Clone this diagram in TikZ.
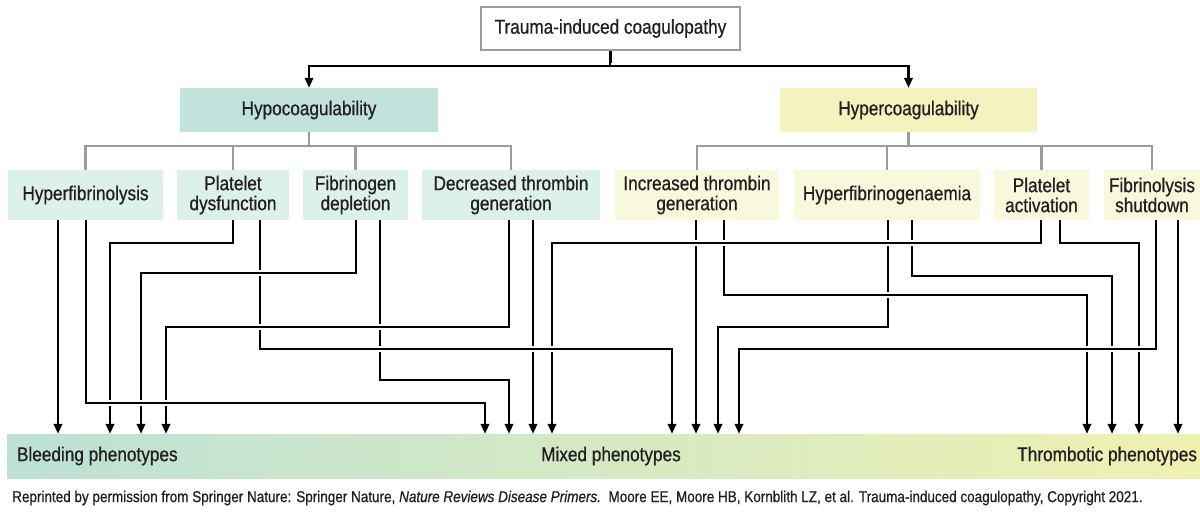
\documentclass[tikz,border=0pt]{standalone}
\usepackage{fontspec}
\setmainfont{Liberation Sans}
\newfontfamily\narrowfont[FakeStretch=0.86, FakeBold=0.7]{Liberation Sans}
\usetikzlibrary{positioning, arrows.meta}
\definecolor{inkgray}{HTML}{231F20}
\definecolor{treegray}{HTML}{9C9C9C}
\definecolor{hypofill}{HTML}{C2E3DC}
\definecolor{hypolight}{HTML}{DCF0EC}
\definecolor{hyperfill}{HTML}{F2F3BD}
\definecolor{hyperlight}{HTML}{F8F9DC}
\definecolor{barteal}{HTML}{BDE1D6}
\definecolor{barmid}{HTML}{DFECCA}
\definecolor{baryellow}{HTML}{EFF1B1}
\tikzset{
x=1pt, y=-1pt, % one unit is one pixel of the figure, y runs downward
every node/.style={font=\narrowfont\fontsize{20}{20}\selectfont, text=inkgray, inner sep=0pt, align=center}, % text of every label
topbox/.style={draw=treegray, line width=2pt, fill=white, minimum height=43pt}, % the root box
hypobox/.style={fill=hypofill, minimum height=44pt}, % first level, bleeding side
hyperbox/.style={fill=hyperfill, minimum height=44pt}, % first level, thrombotic side
hypoitem/.style={fill=hypolight, minimum height=50pt}, % second level, bleeding side
hyperitem/.style={fill=hyperlight, minimum height=50pt}, % second level, thrombotic side
tree/.style={draw=treegray, line width=2.4pt}, % grey branches
link/.style={draw=black, line width=2.2pt, -{Triangle[length=10pt, width=8.5pt]}, preaction={draw=white, line width=6.5pt, -}}, % black arrows, gap where they cross
}

\begin{document}
\begin{tikzpicture}
        \useasboundingbox (0,0) rectangle (1200,513);
        \fill[white] (0,0) rectangle (1200,513);

        \node[topbox, minimum width=259pt] (tic) at (610.5,28.5) {Trauma-induced coagulopathy};
        \node[hypobox, minimum width=258pt] (hypo) at (309,110) {Hypocoagulability};
        \node[hyperbox, minimum width=257pt] (hyper) at (908.5,110) {Hypercoagulability};

        \node[hypoitem, minimum width=155pt] (hfl) at (85.5,195) {Hyperfibrinolysis};
        \node[hypoitem, minimum width=112pt] (pdy) at (233,195) {Platelet\\dysfunction};
        \node[hypoitem, minimum width=105pt] (fde) at (355.5,195) {Fibrinogen\\depletion};
        \node[hypoitem, minimum width=178pt] (dtg) at (511,195) {Decreased thrombin\\generation};
        \node[hyperitem, minimum width=164pt] (itg) at (697,195) {Increased thrombin\\generation};
        \node[hyperitem, minimum width=186pt] (hfg) at (887,195) {Hyperfibrinogenaemia};
        \node[hyperitem, minimum width=95pt] (pac) at (1041.5,195) {Platelet\\activation};
        \node[hyperitem, minimum width=96pt] (fsd) at (1152,195) {Fibrinolysis\\shutdown};

        \node[left color=barteal, middle color=barmid, right color=baryellow, minimum width=1193pt, minimum height=44pt] (pheno) at (603.5,456) {};
        \node[anchor=west] (bleed) at ([xshift=10pt]pheno.west) {Bleeding phenotypes};
        \node (mixed) at (611,456) {Mixed phenotypes};
        \node[anchor=east] (thromb) at ([xshift=-3pt]pheno.east) {Thrombotic phenotypes};

        \node[anchor=west, font=\narrowfont\fontsize{15.7}{16}\selectfont] (credit) at (12,498) {Reprinted by permission from Springer Nature: Springer Nature, \textit{Nature Reviews Disease Primers.}\ \ Moore EE, Moore HB, Kornblith LZ, et al. Trauma-induced coagulopathy, Copyright 2021.};

        \coordinate (hypobus) at (309,146);
        \coordinate (hyperbus) at (908.5,146);
        \draw[tree] (hypo.south) -- (hypobus);
        \draw[tree] (hfl.north) |- (dtg.north |- hypobus) -- (dtg.north);
        \draw[tree] (pdy.north) -- (pdy.north |- hypobus);
        \draw[tree] (fde.north) -- (fde.north |- hypobus);
        \draw[tree] (hyper.south) -- (hyperbus);
        \draw[tree] (itg.north) |- (fsd.north |- hyperbus) -- (fsd.north);
        \draw[tree] (hfg.north) -- (hfg.north |- hyperbus);
        \draw[tree] (pac.north) -- (pac.north |- hyperbus);

        \draw[link] (tic.south) -- ++(0,15) coordinate (split) -| (hypo.north);
        \draw[link] (split) -| (hyper.north);

        \draw[link] (58,0 |- hfl.south) -- (58,0 |- pheno.north);
        \draw[link] (233,0 |- pdy.south) |- (110,243) -- (110,0 |- pheno.north);
        \draw[link] (380,0 |- fde.south) |- (509,380) -- (509,0 |- pheno.north);
        \draw[link] (533,0 |- dtg.south) -- (533,0 |- pheno.north);
        \draw[link] (696,0 |- itg.south) -- (696,0 |- pheno.north);
        \draw[link] (888,0 |- hfg.south) |- (718,327) -- (718,0 |- pheno.north);
        \draw[link] (912,0 |- hfg.south) |- (1112,276) -- (1112,0 |- pheno.north);
        \draw[link] (1060,0 |- pac.south) |- (1139,243) -- (1139,0 |- pheno.north);
        \draw[link] (724,0 |- itg.south) |- (1087,295) -- (1087,0 |- pheno.north);
        \draw[link] (1041,0 |- pac.south) |- (552,243) -- (552,0 |- pheno.north);
        \draw[link] (260,0 |- pdy.south) |- (672,349) -- (672,0 |- pheno.north);
        \draw[link] (356,0 |- fde.south) |- (141,273) -- (141,0 |- pheno.north);
        \draw[link] (509,0 |- dtg.south) |- (166,327) -- (166,0 |- pheno.north);
        \draw[link] (86,0 |- hfl.south) |- (485,403) -- (485,0 |- pheno.north);
        \draw[link] (1156,0 |- fsd.south) |- (739,349) -- (739,0 |- pheno.north);
        \draw[link] (1178,0 |- fsd.south) -- (1178,0 |- pheno.north);

    \end{tikzpicture}
\end{document}
